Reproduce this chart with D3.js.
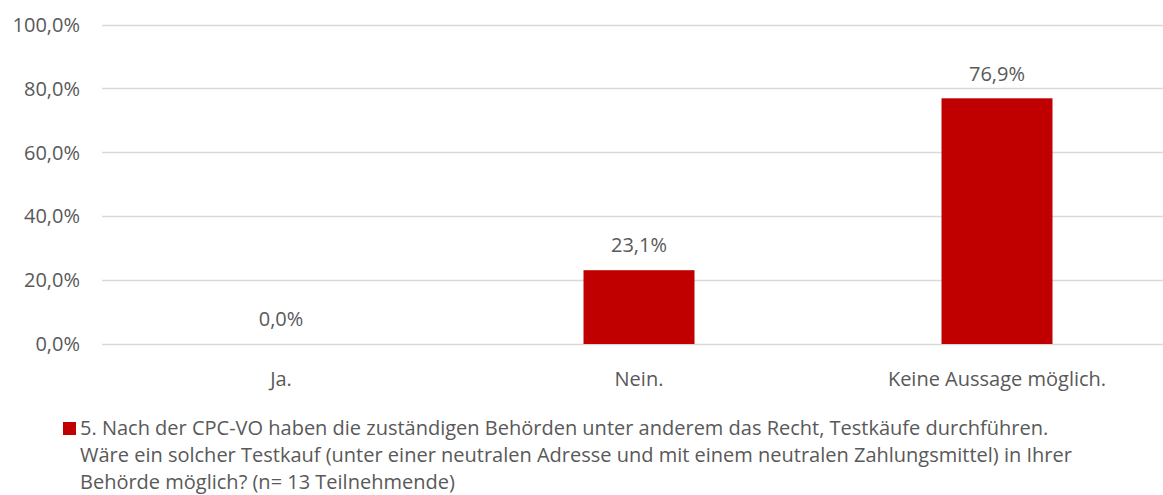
<!DOCTYPE html>
<html lang="de">
<head>
<meta charset="utf-8">
<script src="https://d3js.org/d3.v7.min.js"></script>
<style>
  body { margin: 0; background: #fff; }
  text { font-family: "Open Sans", "Noto Sans", sans-serif; fill: #595959; }
</style>
</head>
<body>
<script>
    // data
    const categories = ["Ja.", "Nein.", "Keine Aussage möglich."];
    const values = [0.0, 23.1, 76.9];
    const yTicks = [0, 20, 40, 60, 80, 100];
    const legendLines = [
        "5. Nach der CPC-VO haben die zuständigen Behörden unter anderem das Recht, Testkäufe durchführen.",
        "Wäre ein solcher Testkauf (unter einer neutralen Adresse und mit einem neutralen Zahlungsmittel) in Ihrer",
        "Behörde möglich? (n= 13 Teilnehmende)"
    ];

    const width = 1163;
    const height = 495;
    const barColor = "#C00000";

    const fmt = function (v) { return v.toFixed(1).replace(".", ",") + "%"; };

    const svg = d3.select("body")
        .append("svg")
        .attr("width", width)
        .attr("height", height);

    const x = d3.scaleBand()
        .domain(categories)
        .range([102, 1176])
        .paddingInner(0.69)
        .paddingOuter(0.345);

    const y = d3.scaleLinear()
        .domain([0, 100])
        .range([344, 24.5]);

    // gridlines
    svg.append("g")
        .selectAll("line")
        .data(yTicks)
        .enter()
        .append("line")
        .attr("x1", 102)
        .attr("x2", width)
        .attr("y1", function (d) { return Math.round(y(d)) + 0.5; })
        .attr("y2", function (d) { return Math.round(y(d)) + 0.5; })
        .attr("stroke", "#D9D9D9")
        .attr("stroke-width", 1.5);

    // y axis labels
    svg.append("g")
        .selectAll("text")
        .data(yTicks)
        .enter()
        .append("text")
        .attr("x", 80)
        .attr("y", function (d) { return y(d); })
        .attr("dy", "0.36em")
        .style("text-anchor", "end")
        .style("font-size", "20px")
        .text(function (d) { return fmt(d); });

    // bars
    svg.append("g")
        .selectAll("rect")
        .data(values)
        .enter()
        .append("rect")
        .attr("x", function (d, i) { return x(categories[i]); })
        .attr("width", x.bandwidth())
        .attr("y", function (d) { return y(d); })
        .attr("height", function (d) { return y(0) - y(d); })
        .attr("fill", barColor);

    // value labels
    svg.append("g")
        .selectAll("text")
        .data(values)
        .enter()
        .append("text")
        .attr("x", function (d, i) { return x(categories[i]) + x.bandwidth() / 2; })
        .attr("y", function (d) { return y(d) - 25; })
        .attr("dy", "0.36em")
        .style("text-anchor", "middle")
        .style("font-size", "20px")
        .text(function (d) { return fmt(d); });

    // category labels
    svg.append("g")
        .selectAll("text")
        .data(categories)
        .enter()
        .append("text")
        .attr("x", function (d) { return x(d) + x.bandwidth() / 2; })
        .attr("y", 379)
        .attr("dy", "0.36em")
        .style("text-anchor", "middle")
        .style("font-size", "20px")
        .text(function (d) { return d; });

    // legend
    svg.append("rect")
        .attr("x", 63)
        .attr("y", 422)
        .attr("width", 13)
        .attr("height", 13)
        .attr("fill", barColor);

    svg.append("g")
        .selectAll("text")
        .data(legendLines)
        .enter()
        .append("text")
        .attr("x", 80)
        .attr("y", function (d, i) { return 428 + i * 27; })
        .attr("dy", "0.36em")
        .style("font-size", "20px")
        .text(function (d) { return d; });
</script>
</body>
</html>
